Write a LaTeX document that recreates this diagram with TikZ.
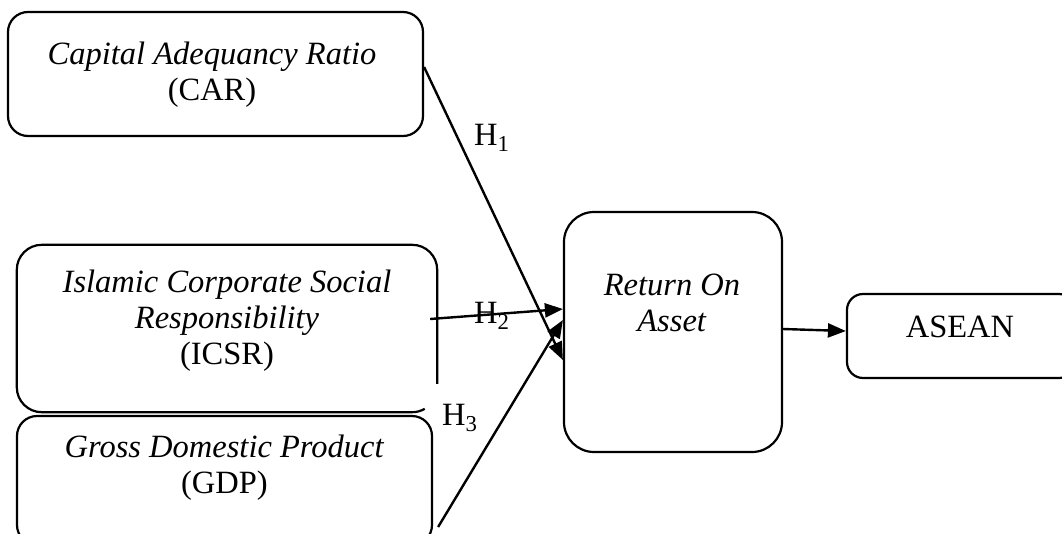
\documentclass[tikz,border=0pt]{standalone}
\usepackage{fontspec}
\setmainfont{Liberation Serif}
\usetikzlibrary{arrows.meta,calc}
\begin{document}
\begin{tikzpicture}[x=1pt,y=-1pt,
  box/.style={draw, line width=2.2pt, rounded corners=#1, inner sep=0pt},
  box/.default=22pt,
  lbl/.style={inner sep=0pt, align=center, anchor=north, font=\fontsize{32.5}{36}\selectfont},
  link/.style={line width=2.4pt, -{Triangle[length=18pt,width=14pt]}},
  hyp/.style={inner sep=0pt, anchor=base west, font=\fontsize{32.5}{36}\selectfont}]
\useasboundingbox (0,0) rectangle (1062,533);
\clip (0,0) rectangle (1062,533);

% variable boxes
\node[box=20pt, minimum width=415pt, minimum height=124pt] (car) at (215.5,74) {};
\node[minimum width=420pt, minimum height=167pt, inner sep=0pt] (icsr) at (227,328.5) {};
\node[box=20pt, minimum width=415pt, minimum height=129pt] (gdp) at (224.5,480.5) {};
\node[box=30pt, minimum width=218pt, minimum height=240pt] (roa) at (673,332) {};
\node[box=16pt, minimum width=228pt, minimum height=84pt] (asean) at (961,336) {};

% ICSR outline, left open at its lower right corner
\draw[line width=2.2pt, rounded corners=25pt]
  ($(icsr.north east)+(0,139)$) -- (icsr.north east) -- (icsr.north west)
  -- (icsr.south west) -- ($(icsr.south east)+(-25,0)$);
\draw[line width=2.2pt] ($(icsr.south east)+(-25,0)$)
  arc[start angle=-90, end angle=-60, radius=25pt];

% box texts
\node[lbl] (cartext) at ($(car.north)+(-3.5,31)$) {\textit{Capital Adequancy Ratio}\\(CAR)};
\node[lbl] (icsrtext) at ($(icsr.north)+(0,25)$) {\textit{Islamic Corporate Social}\\\textit{Responsibility}\\(ICSR)};
\node[lbl] (gdptext) at ($(gdp.north)+(0,20)$) {\textit{Gross Domestic Product}\\(GDP)};
\node[lbl] (roatext) at ($(roa.north)+(-1,63)$) {\textit{Return On}\\\textit{Asset}};
\node[lbl, anchor=base] (aseantext) at ($(asean.center)+(-1,1)$) {ASEAN};

% hypothesised paths
\draw[link] ($(car.east)+(0,-7)$) -- ($(roa.west)+(0,28)$);
\draw[link] ($(icsr.east)+(-7,-9.5)$) -- ($(roa.west)+(0,-23)$);
\draw[link] ($(gdp.east)+(5,46.5)$) -- ($(roa.west)+(0,-12)$);
\draw[link] ($(roa.east)+(0,-3)$) -- ($(asean.west)+(0,-5)$);

% hypothesis labels
\node[hyp] (h1) at (474,145) {H\textsubscript{1}};
\node[hyp] (h2) at (474,323) {H\textsubscript{2}};
\node[hyp] (h3) at (442,425) {H\textsubscript{3}};
\end{tikzpicture}
\end{document}
